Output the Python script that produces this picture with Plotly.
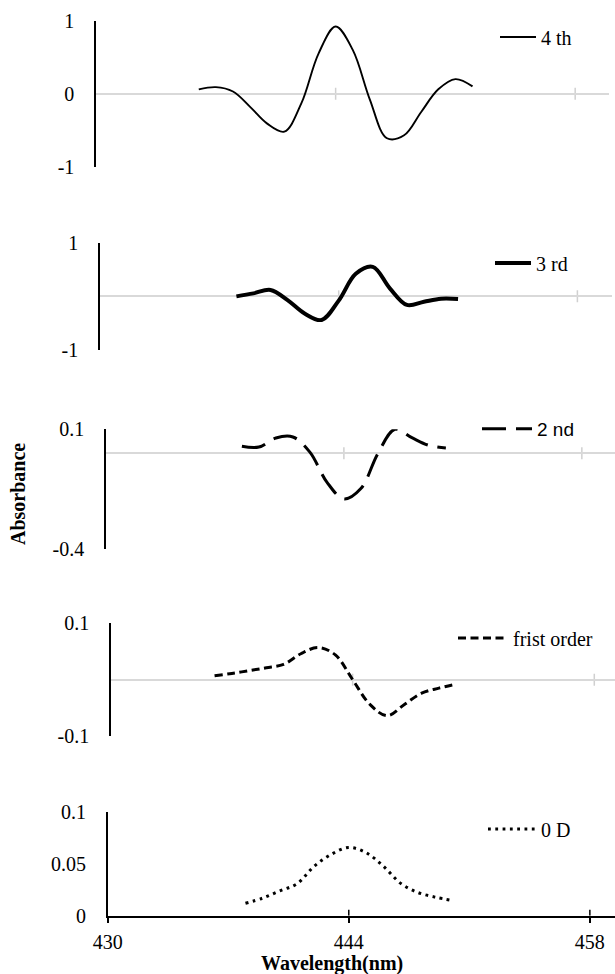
import plotly.graph_objects as go

# ---------------- data ----------------
X_TICKS = [430, 444, 458]
X_TICK_TEXT = ["430", "444", "458"]

WL_4TH = list(range(436, 453))
ABS_4TH = [0.06, 0.09, 0.03, -0.18, -0.41, -0.52, -0.13, 0.55, 0.92, 0.6,
           -0.08, -0.61, -0.57, -0.25, 0.06, 0.2, 0.1]

WL_3RD = list(range(438, 452))
ABS_3RD = [0.0, 0.056, 0.12, -0.07, -0.32, -0.44, -0.08, 0.42, 0.55, 0.15,
           -0.16, -0.1, -0.045, -0.05]

WL_2ND = list(range(438, 451))
ABS_2ND = [0.029, 0.026, 0.064, 0.068, 0.005, -0.12, -0.19, -0.147, -0.001,
           0.1, 0.065, 0.033, 0.022]

WL_1ST = list(range(436, 451))
ABS_1ST = [0.007, 0.011, 0.016, 0.021, 0.027, 0.046, 0.057, 0.044, 0.0,
           -0.044, -0.064, -0.044, -0.024, -0.015, -0.008]

WL_0D = list(range(438, 451))
ABS_0D = [0.012, 0.017, 0.024, 0.031, 0.048, 0.0595, 0.066, 0.061, 0.048,
          0.0315, 0.0225, 0.018, 0.0148]

NAMES = ["4 th", "3 rd", "2 nd", "frist order", "0 D"]

Y_TICKVALS = [[-1, 0, 1], [-1, 1], [-0.4, 0.1], [-0.1, 0.1], [0, 0.05, 0.1]]
Y_TICKTEXT = [["-1", "0", "1"], ["-1", "1"], ["-0.4", "0.1"], ["-0.1", "0.1"], ["0", "0.05", "0.1"]]
Y_RANGES = [[-1, 1], [-1, 1], [-0.4, 0.1], [-0.1, 0.1], [0, 0.1]]

# ---------------- layout geometry (pixels) ----------------
W, H = 615, 974
FONT = "Liberation Serif, Times New Roman, serif"

panels = [
    # x_left, x_right, x_max, y_top, y_bottom, legend line start x, legend centre y, sample width
    dict(xl=96.1, xr=609.4, xmax=460.0, yt=20.7, yb=166.7, lx=500, ly=37, iw=36),
    dict(xl=100.0, xr=611.5, xmax=460.0, yt=242.7, yb=350.0, lx=495, ly=263, iw=36),
    dict(xl=105.9, xr=615.0, xmax=459.95, yt=429.3, yb=549.3, lx=482, ly=429, iw=50),
    dict(xl=111.0, xr=615.0, xmax=459.2, yt=623.3, yb=736.0, lx=458, ly=638, iw=50),
    dict(xl=107.7, xr=615.0, xmax=459.46, yt=812.3, yb=915.7, lx=488, ly=829, iw=48),
]

series = [(WL_4TH, ABS_4TH), (WL_3RD, ABS_3RD), (WL_2ND, ABS_2ND),
          (WL_1ST, ABS_1ST), (WL_0D, ABS_0D)]
line_styles = [
    dict(color="black", width=1.9, dash="solid"),
    dict(color="black", width=4.0, dash="solid"),
    dict(color="black", width=3.0, dash="24px,10px"),
    dict(color="black", width=3.0, dash="8px,4.5px"),
    dict(color="black", width=3.0, dash="2.8px,4.5px"),
]

fig = go.Figure()
layout = dict(
    width=W, height=H, autosize=False,
    margin=dict(l=0, r=0, t=0, b=0, pad=0, autoexpand=False),
    paper_bgcolor="white", plot_bgcolor="white",
    font=dict(family=FONT, size=20, color="black"),
    showlegend=True,
)
shapes = []

for i, (p, (xs, ys), ls, name) in enumerate(zip(panels, series, line_styles, NAMES)):
    n = i + 1
    xa = "x" if n == 1 else f"x{n}"
    ya = "y" if n == 1 else f"y{n}"
    lg = "legend" if n == 1 else f"legend{n}"
    fig.add_trace(go.Scatter(
        x=xs, y=ys, mode="lines", name=name,
        line=dict(shape="spline", smoothing=1.0, **ls),
        xaxis=xa, yaxis=ya, legend=lg,
    ))
    last = (n == 5)
    layout["xaxis" if n == 1 else f"xaxis{n}"] = dict(
        domain=[p["xl"] / W, p["xr"] / W],
        range=[430, p["xmax"]],
        anchor=ya, automargin=False,
        showgrid=False, zeroline=False,
        showline=last, linecolor="black", linewidth=1.5,
        ticks="outside" if last else "", ticklen=6, tickwidth=1.5, tickcolor="black",
        tickvals=X_TICKS, ticktext=X_TICK_TEXT,
        showticklabels=last,
        tickfont=dict(family=FONT, size=20),
        ticklabelstandoff=2,
    )
    layout["yaxis" if n == 1 else f"yaxis{n}"] = dict(
        domain=[1 - p["yb"] / H, 1 - p["yt"] / H],
        range=Y_RANGES[i],
        anchor=xa, automargin=False,
        showgrid=False,
        zeroline=not last, zerolinecolor="#d9d9d9", zerolinewidth=1.5,
        showline=True, linecolor="black", linewidth=1.5,
        ticks="",
        tickvals=Y_TICKVALS[i], ticktext=Y_TICKTEXT[i],
        tickfont=dict(family=FONT, size=20),
        ticklabelstandoff=16,
    )
    # cross tick marks on the horizontal axis
    for t in X_TICKS[1:]:
        shapes.append(dict(
            type="line", xref=xa, yref=ya, x0=t, x1=t,
            ysizemode="pixel", yanchor=0,
            y0=0 if last else -6, y1=6,
            line=dict(color="black" if last else "#d0d0d0", width=1.5),
            layer="above" if last else "below",
        ))
    legend_font = dict(family=FONT, size=20, color="black")
    if n == 3:
        legend_font = dict(family="Liberation Sans Narrow, Liberation Sans, Arial, sans-serif", size=19, color="black")
    layout[lg] = dict(
        x=(p["lx"] - 5) / W, xanchor="left",
        y=1 - p["ly"] / H, yanchor="middle",
        bgcolor="rgba(0,0,0,0)", borderwidth=0,
        font=legend_font, itemwidth=p["iw"],
        tracegroupgap=0,
    )

layout["shapes"] = shapes
layout["annotations"] = [
    dict(text="<b>Absorbance</b>", textangle=-90, xref="paper", yref="paper",
         x=18 / W, y=1 - 494 / H, xanchor="center", yanchor="middle",
         showarrow=False, font=dict(family=FONT, size=20)),
    dict(text="<b>Wavelength(nm)</b>", xref="paper", yref="paper",
         x=332 / W, y=1 - 963 / H, xanchor="center", yanchor="middle",
         showarrow=False, font=dict(family=FONT, size=20)),
]

fig.update_layout(**layout)
fig.write_html(
    "out.html",
    config={"displayModeBar": False},
    post_script="document.body.style.margin='0';document.body.style.overflow='hidden';",
)
